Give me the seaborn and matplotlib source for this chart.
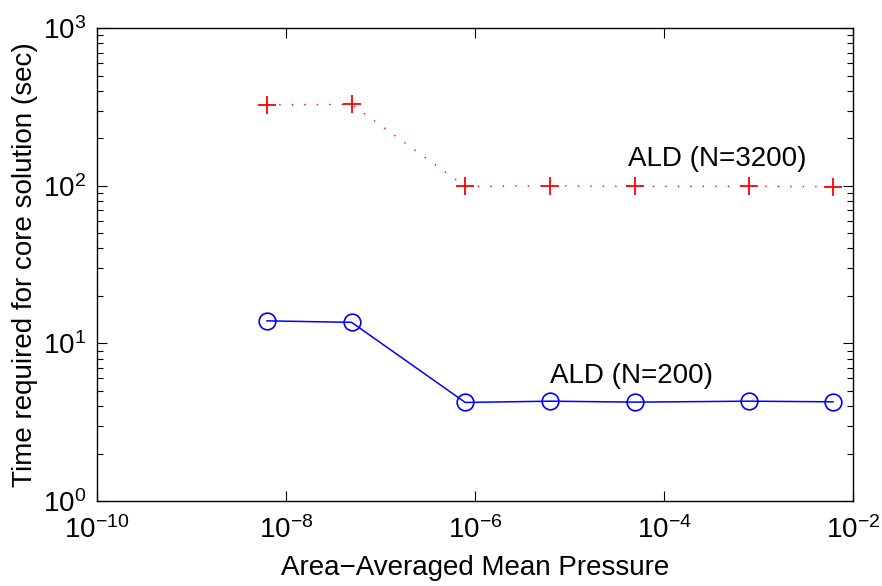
import matplotlib
matplotlib.use("Agg")
import matplotlib.pyplot as plt
import matplotlib.ticker as mticker
import numpy as np
import pandas as pd
import seaborn as sns

# Area-averaged mean pressure at each run
pressure = [6.25e-9, 4.95e-8, 7.9e-7, 6.3e-6, 5.0e-5, 7.9e-4, 6.2e-3]
# Core-solution time (sec) for each discretisation
time_n3200 = [327, 328, 99, 100, 99, 99.5, 98.5]
time_n200 = [13.9, 13.6, 4.22, 4.3, 4.24, 4.3, 4.26]
series_labels = ["ALD (N=3200)", "ALD (N=200)"]

sns.set_theme(style="white")
plt.rcParams["font.family"] = ["Liberation Sans", "DejaVu Sans"]
plt.rcParams["mathtext.fontset"] = "custom"
plt.rcParams["mathtext.rm"] = "Liberation Sans"
plt.rcParams["mathtext.it"] = "Liberation Sans:italic"
plt.rcParams["mathtext.bf"] = "Liberation Sans:bold"

df_hi = pd.DataFrame({"p": pressure, "t": time_n3200})
df_lo = pd.DataFrame({"p": pressure, "t": time_n200})

fig = plt.figure(figsize=(8.82, 5.86), dpi=100)
ax = fig.add_axes([0.110, 0.145, 0.857, 0.807])

sns.lineplot(data=df_hi, x="p", y="t", ax=ax, color="red", linestyle=(0, (1, 8)),
             linewidth=1.0, marker="+", markersize=13, markeredgewidth=1.3,
             markerfacecolor="none", markeredgecolor="red")
sns.lineplot(data=df_lo, x="p", y="t", ax=ax, color="blue", linestyle="-",
             linewidth=1.1, marker="o", markersize=12, markeredgewidth=1.2,
             markerfacecolor="none", markeredgecolor="blue")

ax.set_xscale("log")
ax.set_yscale("log")
ax.set_xlim(1e-10, 1e-2)
ax.set_ylim(1e0, 1e3)

ax.xaxis.set_major_locator(mticker.FixedLocator([1e-10, 1e-8, 1e-6, 1e-4, 1e-2]))
ax.xaxis.set_minor_locator(mticker.NullLocator())
ax.xaxis.set_major_formatter(mticker.LogFormatterMathtext())
ax.yaxis.set_major_locator(mticker.LogLocator(base=10, numticks=10))
ax.yaxis.set_minor_locator(mticker.LogLocator(base=10, subs=np.arange(2, 10), numticks=10))
ax.yaxis.set_minor_formatter(mticker.NullFormatter())

ax.tick_params(which="both", direction="in", top=True, right=True,
               bottom=True, left=True, color="black", labelsize=20,
               labelcolor="black")
ax.tick_params(which="major", length=7, width=0.8)
ax.tick_params(which="minor", length=4, width=0.8)
ax.tick_params(axis="x", which="major", pad=11)
ax.tick_params(axis="y", which="major", pad=8)
for s in ax.spines.values():
    s.set_visible(True)
    s.set_color("black")
    s.set_linewidth(1.0)

ax.set_xlabel("Area\u2212Averaged Mean Pressure", fontsize=20, color="black", labelpad=8)
ax.set_ylabel("Time required for core solution (sec)", fontsize=20, color="black", labelpad=3)

ax.text(3.64e-4, 122, series_labels[0], fontsize=20, color="black",
        ha="center", va="bottom")
ax.text(4.58e-5, 5.13, series_labels[1], fontsize=20, color="black",
        ha="center", va="bottom")

fig.savefig("out.png", dpi=100, facecolor="white")
